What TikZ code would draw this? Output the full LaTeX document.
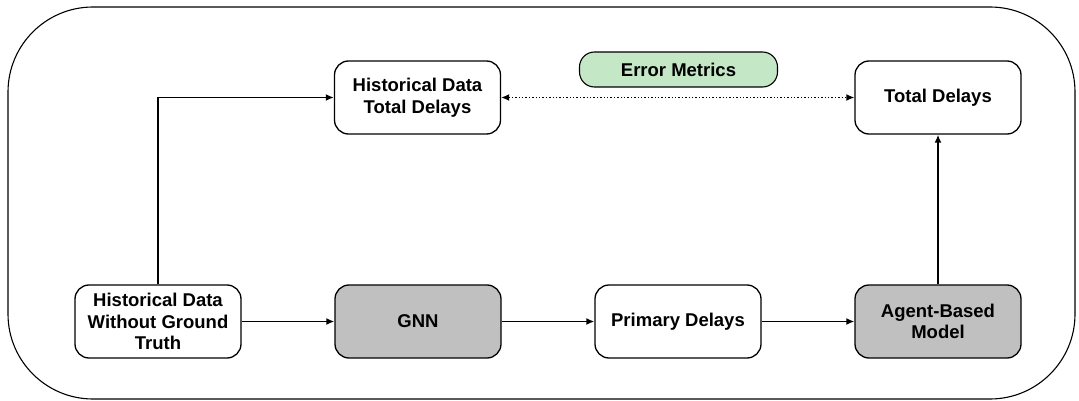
\documentclass[tikz,border=0pt]{standalone}
\usepackage{fontspec}
\setmainfont{Liberation Sans}
\usetikzlibrary{arrows.meta}
\definecolor{gnngray}{HTML}{C0C0C0}
\definecolor{errgreen}{HTML}{C4E7C6}
\begin{document}
\begin{tikzpicture}[x=1pt,y=-1pt,
  box/.style={draw=black, line width=1.3pt, rounded corners=14pt, minimum width=166pt, minimum height=73pt,
    align=center, font=\fontsize{18.5}{21.7}\selectfont\bfseries, inner sep=2pt},
  graybox/.style={box, fill=gnngray},
  pill/.style={draw=black, line width=1.1pt, rounded corners=15pt, fill=errgreen, minimum width=198pt, minimum height=35pt,
    font=\fontsize{18.5}{21.7}\selectfont\bfseries},
  conn/.style={line width=1.9pt, -{Latex[length=8pt,width=7pt]}},
  dotconn/.style={line width=1.4pt, dotted, {Latex[length=8pt,width=7pt]}-{Latex[length=8pt,width=7pt]}}
]
\useasboundingbox (0,0) rectangle (1079,401);
\draw[line width=1.1pt, rounded corners=85pt] (8,7) rectangle (1075,399);

\node[box] (hwgt) at (158,321.5) {Historical Data\\Without Ground\\Truth};
\node[graybox] (gnn) at (418,321.5) {GNN};
\node[box] (pd) at (678,321.5) {Primary Delays};
\node[graybox] (abm) at (938,321.5) {Agent-Based\\Model};
\node[box] (hdtd) at (417.5,97.5) {Historical Data\\Total Delays};
\node[box] (td) at (938,97.5) {Total Delays};
\node[pill] (em) at (678.5,69.5) {Error Metrics};

\draw[conn] (hwgt.north) |- (hdtd.west);
\draw[conn] (hwgt) -- (gnn);
\draw[conn] (gnn) -- (pd);
\draw[conn] (pd) -- (abm);
\draw[conn] (abm) -- (td);
\draw[dotconn] (hdtd) -- (td);
\end{tikzpicture}
\end{document}
